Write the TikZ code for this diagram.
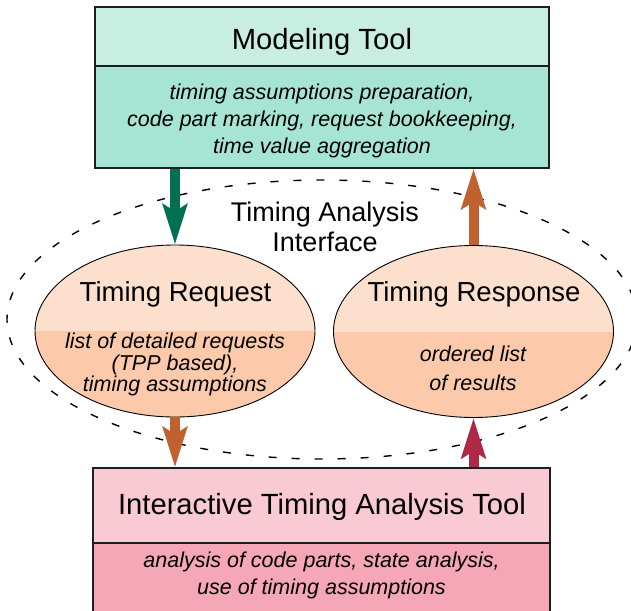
\documentclass[tikz,border=0pt]{standalone}
\usepackage{fontspec}
\setmainfont{Liberation Sans}
\usetikzlibrary{arrows.meta,shapes.geometric}
\definecolor{mintA}{RGB}{200,238,226}
\definecolor{mintB}{RGB}{166,229,212}
\definecolor{peachA}{RGB}{253,223,205}
\definecolor{peachB}{RGB}{253,201,171}
\definecolor{pinkA}{RGB}{249,201,212}
\definecolor{pinkB}{RGB}{245,167,184}
\definecolor{greenA}{RGB}{0,112,80}
\definecolor{orangeA}{RGB}{192,98,48}
\definecolor{crimsonA}{RGB}{176,40,72}
\definecolor{borderc}{RGB}{30,30,30}
\begin{document}
\begin{tikzpicture}[x=1pt,y=-1pt,
  boxpart/.style={rectangle, draw=borderc, line width=1.3pt, inner sep=0pt},
  blob/.style={ellipse, draw=black, line width=0.9pt, inner sep=0pt,
    minimum width=280pt, minimum height=172pt, fill=peachA,
    path picture={\fill[peachB] (path picture bounding box.west) rectangle (path picture bounding box.south east);}},
  title/.style={font=\fontsize{29.2}{29.2}\selectfont, anchor=base, inner sep=0pt},
  etitle/.style={font=\fontsize{27.5}{27.5}\selectfont, anchor=base, inner sep=0pt},
  ititle/.style={font=\fontsize{27}{27}\selectfont, anchor=base, inner sep=0pt},
  desc/.style={font=\fontsize{21.5}{21.5}\selectfont\itshape, anchor=base, inner sep=0pt},
  edesc/.style={font=\fontsize{21.5}{21.5}\selectfont\itshape, anchor=base, inner sep=0pt},
  tarrow/.style={draw=#1, line width=10pt, -{Stealth[length=40pt,width=24pt,inset=7pt]}}
]
\useasboundingbox (0,0) rectangle (631,610);

% dashed interface ellipse
\node[ellipse, draw=black, dash pattern=on 8pt off 15pt, line width=1.4pt,
  minimum width=630pt, minimum height=279pt, inner sep=0pt] (tai) at (322,319.5) {};

% Modeling tool box
\node[boxpart, fill=mintA, minimum width=454pt, minimum height=59pt] (mth) at (322,36.5) {};
\node[boxpart, fill=mintB, minimum width=454pt, minimum height=102pt] (mtb) at (322,117) {};
\node[title] (mtt) at (322,49) {Modeling Tool};
\node[desc] (mtd1) at (322,99.5) {timing assumptions preparation,};
\node[desc] (mtd2) at (322,126.5) {code part marking, request bookkeeping,};
\node[desc] (mtd3) at (322,153) {time value aggregation};

% Interactive tool box
\node[boxpart, fill=pinkA, minimum width=457pt, minimum height=75pt] (itah) at (321.5,505.5) {};
\node[boxpart, fill=pinkB, minimum width=457pt, minimum height=72pt] (itab) at (321.5,579) {};
\node[title] (itat) at (322,514) {Interactive Timing Analysis Tool};
\node[desc] (itad1) at (321.5,567.3) {analysis of code parts, state analysis,};
\node[desc] (itad2) at (321.5,594.3) {use of timing assumptions};

% interface label
\node[ititle] (tail1) at (325,221.7) {Timing Analysis};
\node[ititle] (tail2) at (325,251.7) {Interface};

% ellipses
\node[blob] (req) at (175,331) {};
\node[blob] (resp) at (473.5,331.5) {};
\node[etitle] (reqt) at (175.5,301.7) {Timing Request};
\node[etitle] (respt) at (474,301.7) {Timing Response};
\node[edesc] (reqd1) at (175,348.3) {list of detailed requests};
\node[edesc] (reqd2) at (175,370) {(TPP based),};
\node[edesc] (reqd3) at (175,391) {timing assumptions};
\node[edesc] (respd1) at (473,361.7) {ordered list};
\node[edesc] (respd2) at (473,390) {of results};

% arrows
\draw[tarrow=greenA] (mtb.south -| req.north) -- (req.north);
\draw[tarrow=orangeA] (resp.north) -- (mtb.south -| resp.north);
\draw[tarrow=orangeA] (req.south) -- (req.south |- itah.north);
\draw[tarrow=crimsonA] (itah.north -| resp.south) -- (resp.south);
\end{tikzpicture}
\end{document}
